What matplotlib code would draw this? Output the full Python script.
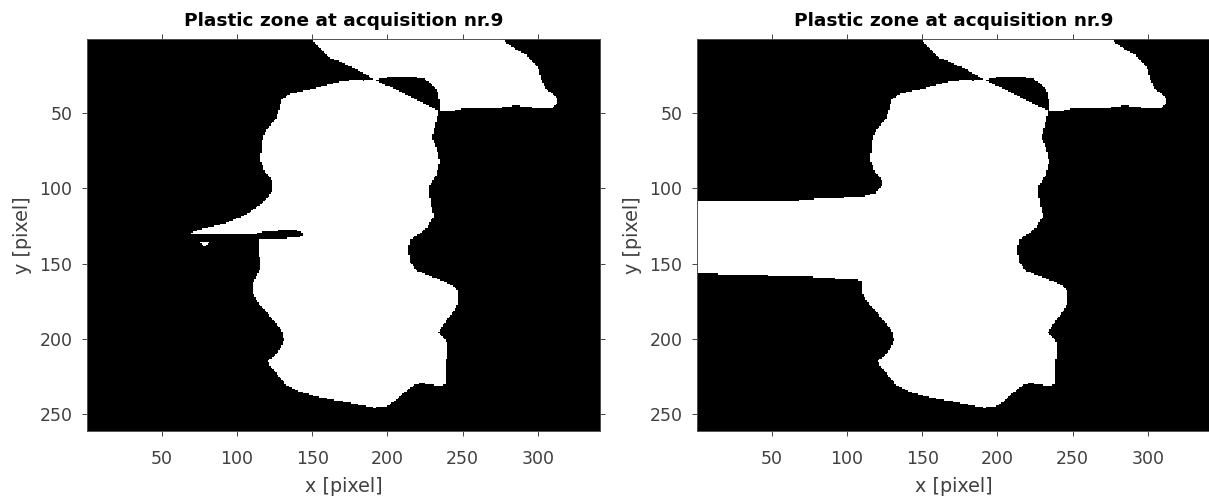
import numpy as np
import matplotlib
matplotlib.use("Agg")
import matplotlib.pyplot as plt
from matplotlib.path import Path

plt.rcParams['font.family'] = ['DejaVu Sans']

# image size (columns x rows) of the strain maps
n_cols = 341
n_rows = 261

x_ticks = [50, 100, 150, 200, 250, 300]
y_ticks = [50, 100, 150, 200, 250]
title = 'Plastic zone at acquisition nr.9'

# outline of the main plastic zone (x = column, y = row)
body_x = [129.7, 134.1, 141.8, 150.8, 159.6, 168.4, 176.0, 184.0, 191.7,
          200.0, 210.0, 220.0, 228.0, 234.0,
          232.6, 230.4, 229.5, 232.6, 234.4, 232.2, 227.1, 228.2, 230.4, 226.0,
          220.4, 214.9, 213.1, 214.9, 219.4, 230.4, 241.5, 245.9, 247.0, 245.9,
          241.5, 237.1, 233.7, 237.1, 239.3, 239.3, 238.2, 238.2, 234.8, 226.0,
          221.5, 217.1, 208.3, 203.8, 198.3, 190.6, 183.9, 172.9, 161.8, 150.7,
          139.6, 133.0, 127.4, 121.9, 120.8, 125.2, 129.7, 131.2, 129.7, 126.3,
          120.8, 115.3, 110.8, 110.8, 113.1, 115.3, 115.3, 114.2, 114.0,
          113.5, 84.0, 75.0, 69.5, 69.5, 70.9, 79.8, 93.1, 106.4, 117.4, 123.0,
          123.7, 118.6, 115.7, 116.4, 119.7, 126.3, 128.5]
body_y = [40.8, 37.5, 35.3, 33.5, 30.9, 28.7, 27.8, 28.0, 27.8,
          31.5, 36.5, 41.5, 45.5, 48.5,
          53.0, 61.9, 66.0, 74.1, 81.8, 90.7, 99.5, 108.4, 118.4, 126.1,
          130.5, 133.9, 140.5, 149.3, 154.9, 159.3, 163.8, 167.1, 171.5, 178.2,
          184.8, 190.3, 195.9, 199.2, 203.6, 211.4, 220.2, 230.2, 231.7, 230.2,
          229.5, 231.3, 238.0, 242.4, 245.7, 246.1, 244.6, 242.4, 240.6, 238.0,
          234.7, 231.3, 224.7, 218.0, 214.7, 211.4, 205.8, 200.3, 194.8, 190.3,
          183.7, 178.2, 170.4, 162.7, 158.2, 153.8, 147.1, 140.5, 134.0,
          130.4, 130.4, 130.3, 130.2, 129.3, 128.7, 126.1, 122.8, 117.2, 109.5, 102.8,
          95.1, 88.5, 81.8, 68.5, 60.8, 53.0, 45.3]

# upper lobe touching the top edge
lobe_x = [150.0, 150.7, 153.3, 158.4, 161.8, 166.1, 176.3, 183.9, 191.7,
          197.0, 206.1, 212.0, 217.1, 224.7, 228.2, 231.5, 233.7, 234.2, 234.4,
          241.3, 250.3, 258.0, 265.9, 273.2, 280.0, 285.8, 291.0, 298.7, 305.7,
          309.5, 312.4, 312.6, 311.3, 307.7, 305.7, 303.5, 301.3, 300.0, 296.8,
          292.3, 290.2, 284.7, 279.6, 275.8, 275.5]
lobe_y = [-1.0, 2.1, 4.6, 10.2, 13.1, 14.6, 19.0, 23.1, 27.6,
          26.3, 25.2, 25.0, 25.4, 27.0, 29.7, 32.5, 37.5, 43.0, 48.8,
          48.8, 46.6, 46.9, 46.8, 46.3, 45.2, 44.8, 45.3, 46.5, 46.8,
          46.0, 43.0, 40.8, 38.6, 35.6, 34.2, 30.5, 26.4, 20.0, 16.4,
          11.2, 9.8, 7.0, 3.5, 1.0, -1.0]

# crack tip cutting into the zone of the first map
crack_x = [113.0, 118.0, 130.0, 137.4, 141.5, 144.2, 144.2, 140.0, 125.0, 114.0, 113.0]
crack_y = [130.4, 128.3, 127.9, 127.7, 128.4, 130.2, 130.8, 132.6, 133.6, 134.0, 134.0]
chip_x = [75.0, 82.3, 78.7]
chip_y = [135.6, 135.6, 138.8]

# full crack band of the second map
band_x = [-1.0, 38.9, 67.3, 76.4, 90.6, 111.3, 119.0, 122.9, 124.2, 135.0,
          135.0, 111.8, 111.3, 108.6, 95.7, 80.2, 59.5, 33.6, -1.0]
band_y = [108.2, 108.6, 108.2, 107.1, 106.4, 105.3, 103.1, 98.7, 94.2, 94.0,
          165.0, 167.3, 162.8, 161.1, 160.2, 159.1, 158.4, 157.5, 156.6]


def rasterize(shapes, holes=()):
    rows, cols = np.mgrid[1:n_rows + 1, 1:n_cols + 1]
    pts = np.column_stack([cols.ravel(), rows.ravel()])
    mask = np.zeros(cols.size, dtype=bool)
    for xs, ys in shapes:
        mask |= Path(np.column_stack([xs, ys])).contains_points(pts)
    for xs, ys in holes:
        mask &= ~Path(np.column_stack([xs, ys])).contains_points(pts)
    return mask.reshape(cols.shape).astype(float)


maps = [
    rasterize([(body_x, body_y), (lobe_x, lobe_y), (chip_x, chip_y)],
              holes=[(crack_x, crack_y)]),
    rasterize([(body_x, body_y), (lobe_x, lobe_y), (band_x, band_y)]),
]

fig = plt.figure(figsize=(12.09, 5.03), dpi=100)
lefts = [87.3 / 1209, 697.3 / 1209]

for left, zone in zip(lefts, maps):
    ax = fig.add_axes([left, 72 / 503, 513 / 1209, 392 / 503])
    ax.imshow(zone, cmap='gray', vmin=0, vmax=1, interpolation='nearest',
              extent=(0.5, n_cols + 0.5, n_rows + 0.5, 0.5), aspect='auto')
    ax.set_xticks(x_ticks)
    ax.set_yticks(y_ticks)
    ax.tick_params(direction='out', top=True, right=True, length=3.5, width=0.6,
                   color='#262626', labelcolor='#404040', labelsize=12.5, pad=7.3)
    ax.tick_params(axis='x', pad=10)
    for s in ax.spines.values():
        s.set_color('#505050')
        s.set_linewidth(0.7)
    ax.set_title(title, fontsize=13.3, fontweight='bold', color='black', pad=9.5)
    ax.set_xlabel('x [pixel]', fontsize=13.8, color='#404040', labelpad=7)
    ax.set_ylabel('y [pixel]', fontsize=13.8, color='#404040', labelpad=5.5)

fig.savefig('out.png', dpi=100, facecolor='white')
